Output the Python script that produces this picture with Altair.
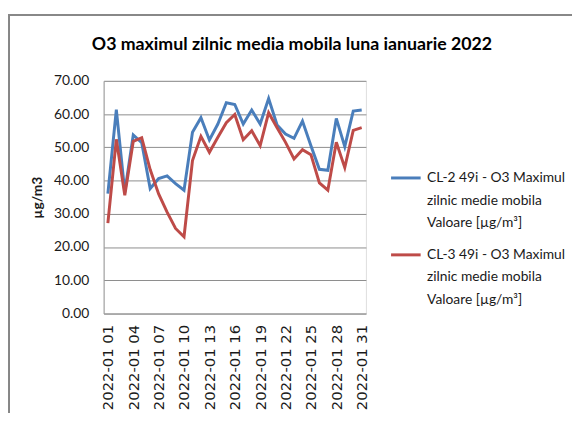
import altair as alt
import pandas as pd

days = [f"2022-01 {d:02d}" for d in range(1, 32)]
tick_days = days[::3]

series_names = [
    "CL-2 49i - O3 Maximul zilnic medie mobila Valoare [µg/m³]",
    "CL-3 49i - O3 Maximul zilnic medie mobila Valoare [µg/m³]",
]
series_colors = ["#4a7ebb", "#be4b48"]

cl2 = [36.1, 61.3, 36.5, 53.7, 51.4, 37.6, 40.6, 41.4, 39.1, 37.1,
       54.5, 58.9, 52.2, 57.0, 63.4, 62.9, 57.0, 61.2, 57.0, 64.7,
       56.7, 54.0, 52.7, 57.9, 50.5, 43.4, 43.1, 58.7, 50.2, 60.9, 61.2]
cl3 = [27.2, 52.4, 35.6, 51.8, 52.9, 43.3, 36.0, 30.5, 25.6, 23.1,
       46.0, 53.3, 48.5, 53.0, 57.4, 59.9, 52.3, 55.0, 50.5, 60.4,
       55.9, 51.5, 46.5, 49.3, 47.8, 39.3, 37.1, 51.5, 43.9, 55.1, 55.9]

y_ticks = [0, 10, 20, 30, 40, 50, 60, 70]

df = pd.DataFrame({
    "day": days * 2,
    "series": [series_names[0]] * 31 + [series_names[1]] * 31,
    "value": cl2 + cl3,
})

FONT = "Lato"

lines = alt.Chart(df).mark_line(strokeWidth=3).encode(
    x=alt.X("day:O", sort=None, title=None,
            axis=alt.Axis(values=tick_days, labelAngle=270, labelAlign="right",
                          labelBaseline="middle", labelPadding=11, ticks=False,
                          labelFont="DejaVu Sans", labelFontSize=15,
                          labelColor="#1a1a1a", domainColor="#9a9a9a",
                          grid=False, labelOverlap=False)),
    y=alt.Y("value:Q", title="µg/m3",
            scale=alt.Scale(domain=[0, 70], nice=False, zero=True),
            axis=alt.Axis(values=y_ticks, format=".2f", ticks=False,
                          labelPadding=15, labelFont=FONT, labelFontSize=14,
                          labelColor="#1a1a1a", domainColor="#9a9a9a",
                          gridColor="#8c8c8c", titleFont=FONT, titleFontSize=14,
                          titleFontWeight="bold", titleColor="#1a1a1a",
                          titleAngle=270, titleX=-67, titleY=118,
                          titleAlign="center", titleBaseline="middle")),
    color=alt.Color("series:N",
                    scale=alt.Scale(domain=series_names, range=series_colors),
                    legend=alt.Legend(
                        title=None, orient="none", legendX=290, legendY=82,
                        symbolType="stroke", symbolSize=900, symbolStrokeWidth=3,
                        labelFont=FONT, labelFontSize=14, labelColor="#1a1a1a",
                        labelLimit=300, labelOffset=5, rowPadding=8, padding=0,
                        labelBaseline="middle",
                        labelExpr="split(replace(replace(datum.label, ' zilnic', '|zilnic'), ' Valoare', '|Valoare'), '|')",
                    )),
)

frame_top = alt.Chart(df).mark_rule(color="#888888", strokeWidth=1.2).encode(
    x=alt.value(-97), x2=alt.value(480), y=alt.value(-67))
frame_left = alt.Chart(df).mark_rule(color="#888888", strokeWidth=1.2).encode(
    x=alt.value(-96.5), y=alt.value(-67), y2=alt.value(340))

chart = alt.layer(frame_top, frame_left, lines).properties(
    width=266, height=236,
    autosize=alt.AutoSizeParams(type="none"),
    padding={"left": 97, "top": 71, "right": 209, "bottom": 98},
    title=alt.TitleParams(
        "O3 maximul zilnic media mobila luna ianuarie 2022",
        font=FONT, fontSize=18, fontWeight="bold", color="#000000",
        anchor="middle", dx=58, offset=-54, baseline="alphabetic"),
).configure_view(strokeWidth=0).configure(
    style={"guide-label": {"lineHeight": 23}}
)

chart.save("out.html", embed_options={"renderer": "svg", "actions": False})
